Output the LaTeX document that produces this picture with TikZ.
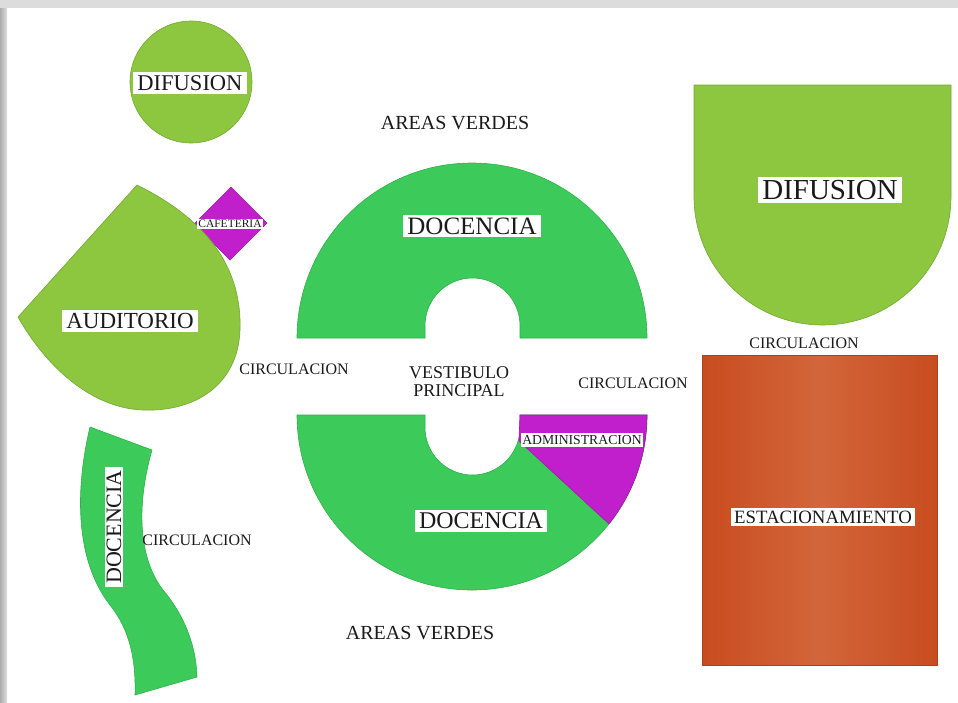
\documentclass[tikz,border=0pt]{standalone}
\usepackage{fontspec}
\setmainfont{Liberation Serif}
\definecolor{lgreen}{HTML}{8DC63F}
\definecolor{lgreenD}{HTML}{74A832}
\definecolor{dgreen}{HTML}{3CCB5A}
\definecolor{dgreenD}{HTML}{30B04B}
\definecolor{mag}{HTML}{C21FCC}
\definecolor{magD}{HTML}{9E1AA6}
\definecolor{orgD}{HTML}{C84C1F}
\definecolor{orgL}{HTML}{D2663A}
\definecolor{txt}{HTML}{1A1A1A}
\definecolor{frame}{HTML}{DCDCDC}
\newcommand{\fs}[1]{\fontsize{#1}{#1}\selectfont}
\begin{document}
\begin{tikzpicture}[x=1pt,y=-1pt,
  lbl/.style={fill=white, text=txt, inner xsep=4pt, inner ysep=3pt},
  plain/.style={text=txt, inner sep=0pt, align=center},
  zoneA/.style={fill=lgreen, draw=lgreenD, line width=0.6pt},
  zoneB/.style={fill=dgreen, draw=dgreenD, line width=0.6pt},
  zoneM/.style={fill=mag, draw=magD, line width=0.6pt}]
% background and frame
\useasboundingbox (0,0) rectangle (958,702);
\fill[frame] (0,0) rectangle (958,702);
\fill[white] (7,8) rectangle (958,702);
\shade[left color=gray!65, right color=gray!25] (0,8) rectangle (7,702);

% small DIFUSION circle
\draw[zoneA] (191,82) circle[radius=61pt];
\node[lbl, font=\fs{22.5}] (difA) at (190,83) {DIFUSION};

% CAFETERIA diamond (behind auditorio)
\fill[zoneM] (231,187) -- (267,223) -- (230,260) -- (194,224) -- cycle;
% AUDITORIO teardrop
\draw[zoneA] (137,185) .. controls (212,222) and (242,272) .. (240,330)
  .. controls (238,385) and (195,412) .. (143,410)
  .. controls (90,408) and (45,365) .. (18,317) -- cycle;
\node[lbl, inner xsep=1.5pt, inner ysep=1pt, font=\fs{11.5}] (caf) at (230,224) {CAFETERIA};
\node[lbl, font=\fs{23}] (aud) at (130,321) {AUDITORIO};
\node[plain, font=\fs{16}] (circA) at (294,369) {CIRCULACION};

% left S-shaped DOCENCIA band
\draw[zoneB] (90,427) .. controls (75,490) and (75,560) .. (110,605)
  .. controls (130,630) and (136,660) .. (135,695)
  -- (197,677) .. controls (196,640) and (180,610) .. (163,590)
  .. controls (140,560) and (135,510) .. (152,450) -- cycle;
\node[lbl, rotate=90, inner xsep=3pt, inner ysep=2pt, font=\fs{22}] (docL) at (114,527) {DOCENCIA};
\node[plain, font=\fs{16}] (circL) at (197,540) {CIRCULACION};

% central ring, upper half
\draw[zoneB] (297,338) arc[start angle=180, end angle=0, radius=175pt]
  -- (520,338) -- (520,325.5) arc[start angle=0, end angle=180, radius=47.5pt]
  -- (425,338) -- cycle;
% central ring, lower half
\draw[zoneB] (297,415) arc[start angle=180, end angle=360, radius=175pt]
  -- (520,415) -- (520,427.5) arc[start angle=0, end angle=-180, radius=47.5pt]
  -- (425,415) -- cycle;
% ADMINISTRACION wedge
\draw[zoneM] (520,415) -- (647,415) arc[start angle=0, end angle=-38.5, radius=175pt]
  -- (519,441) -- cycle;

\node[plain, font=\fs{20}] (avTop) at (455,123) {AREAS VERDES};
\node[lbl, font=\fs{25}] (docU) at (472,226) {DOCENCIA};
\node[plain, font=\fs{18}] (vest) at (459,382) {VESTIBULO\\PRINCIPAL};
\node[plain, font=\fs{16}] (circC) at (633,383) {CIRCULACION};
\node[lbl, inner xsep=1.5pt, inner ysep=2pt, font=\fs{13.7}] (adm) at (582,440) {ADMINISTRACION};
\node[lbl, font=\fs{24}] (docD) at (481,521) {DOCENCIA};
\node[plain, font=\fs{20}] (avBot) at (420,633) {AREAS VERDES};

% big DIFUSION
\draw[zoneA] (694,85) -- (951,85) -- (951,196.5)
  arc[start angle=0, end angle=-180, radius=128.5pt] -- cycle;
\node[lbl, font=\fs{29}] (difB) at (830,190) {DIFUSION};
\node[plain, font=\fs{16}] (circR) at (804,343) {CIRCULACION};

% ESTACIONAMIENTO
\shade[left color=orgD, right color=orgD, middle color=orgL] (702,355) rectangle (937,665);
\draw[orgD!85!black, line width=0.5pt] (702,355) rectangle (937,665);
\node[lbl, inner xsep=3pt, inner ysep=3pt, font=\fs{18.8}] (est) at (823,517) {ESTACIONAMIENTO};
\end{tikzpicture}
\end{document}
